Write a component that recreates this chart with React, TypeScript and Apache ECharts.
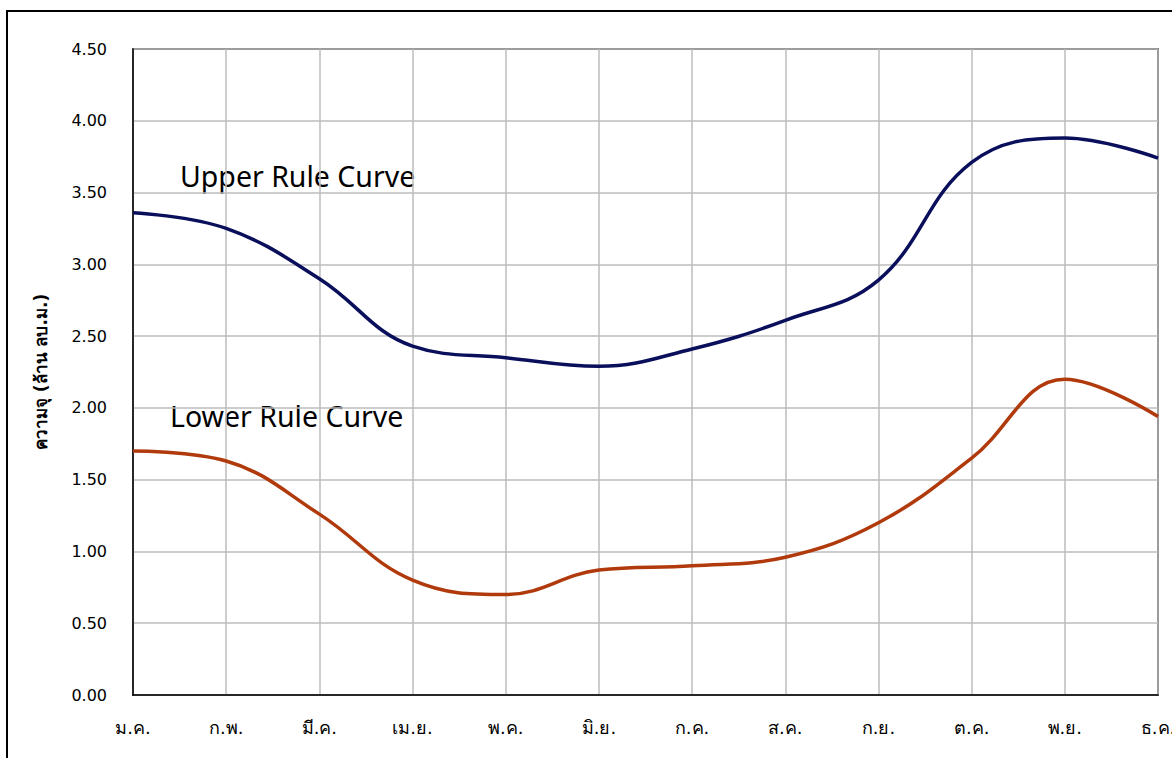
import React, { useEffect, useRef } from "react";
import * as echarts from "echarts";

const months = ["ม.ค.", "ก.พ.", "มี.ค.", "เม.ย.", "พ.ค.", "มิ.ย.", "ก.ค.", "ส.ค.", "ก.ย.", "ต.ค.", "พ.ย.", "ธ.ค."];
const upperRuleCurve = [3.36, 3.25, 2.9, 2.43, 2.35, 2.29, 2.41, 2.61, 2.89, 3.71, 3.88, 3.74];
const lowerRuleCurve = [1.7, 1.63, 1.26, 0.8, 0.7, 0.87, 0.9, 0.96, 1.2, 1.65, 2.2, 1.94];
const yAxisTitle = "ความจุ (ล้าน ลบ.ม.)";

const FONT = "Tahoma, 'DejaVu Sans', 'Noto Sans', sans-serif";

export default function App() {
  const ref = useRef<HTMLDivElement>(null);
  useEffect(() => {
    if (!ref.current) return;
    const chart = echarts.init(ref.current, undefined, { renderer: "svg" });
    chart.setOption({
      animation: false,
      backgroundColor: "#ffffff",
      grid: {
        left: 133,
        right: 14,
        top: 49,
        bottom: 63,
        outerBoundsMode: "none",
        containLabel: false,
        show: true,
        borderColor: "#000000",
        borderWidth: 1.5,
        backgroundColor: "transparent",
      },
      xAxis: {
        type: "category",
        data: months,
        boundaryGap: false,
        axisTick: { show: false },
        axisLine: { show: true, lineStyle: { color: "#000", width: 1.5 } },
        axisLabel: { color: "#000", fontSize: 18, fontFamily: FONT, margin: 23 },
        splitLine: { show: true, lineStyle: { color: "#bdbdbd", width: 1.5 } },
      },
      yAxis: {
        type: "value",
        min: 0,
        max: 4.5,
        interval: 0.5,
        name: yAxisTitle,
        nameLocation: "middle",
        nameGap: 84,
        nameTextStyle: { color: "#000", fontSize: 17, fontWeight: "bold", fontFamily: FONT },
        axisTick: { show: false },
        axisLine: { show: true, lineStyle: { color: "#000", width: 1.5 } },
        axisLabel: {
          color: "#000",
          fontSize: 16,
          fontFamily: FONT,
          margin: 26,
          formatter: (v: number) => v.toFixed(2),
        },
        splitLine: { show: true, lineStyle: { color: "#bdbdbd", width: 1.5 } },
      },
      series: [
        {
          name: "Upper Rule Curve",
          type: "line",
          data: upperRuleCurve,
          smooth: 0.4,
          symbol: "none",
          lineStyle: { color: "#0a0f5c", width: 3.5 },
        },
        {
          name: "Lower Rule Curve",
          type: "line",
          data: lowerRuleCurve,
          smooth: 0.4,
          symbol: "none",
          lineStyle: { color: "#b03a0c", width: 3.5 },
        },
      ],
      graphic: [
        {
          type: "rect",
          shape: { x: 7, y: 11, width: 1200, height: 800 },
          style: { fill: "none", stroke: "#000", lineWidth: 2 },
          silent: true,
        },
        {
          type: "text",
          x: 180,
          y: 176,
          style: {
            text: "Upper Rule Curve",
            fontSize: 28.5,
            fontFamily: "'Noto Sans', sans-serif",
            fill: "#000",
            textVerticalAlign: "middle",
          },
        },
        {
          type: "text",
          x: 170,
          y: 416,
          style: {
            text: "Lower Rule Curve",
            fontSize: 28.5,
            fontFamily: "'Noto Sans', sans-serif",
            fill: "#000",
            textVerticalAlign: "middle",
          },
        },
      ],
    });
    return () => chart.dispose();
  }, []);
  return (
    <div
      ref={ref}
      style={{ position: "fixed", left: 0, top: 0, width: 1172, height: 758, background: "#fff" }}
    />
  );
}
